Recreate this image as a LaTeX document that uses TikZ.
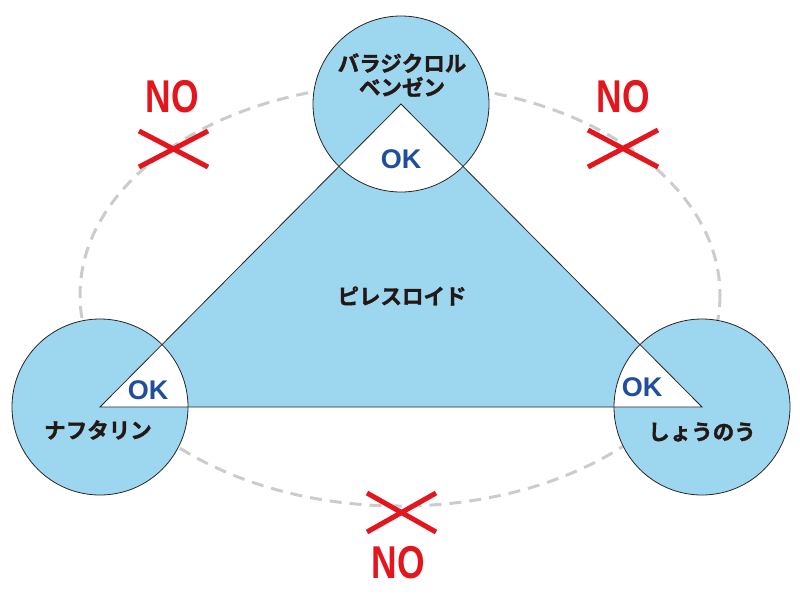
\documentclass[tikz,border=0pt]{standalone}
\usepackage{fontspec}
\setmainfont{Liberation Sans}
\newfontfamily\jp{Noto Sans CJK JP}[BoldFont={* Bold}, BoldFeatures={FakeBold=1.5}]
\definecolor{lblue}{HTML}{9DD6EF}
\definecolor{okblue}{HTML}{1F4E9E}
\definecolor{nored}{HTML}{E3161E}
\definecolor{jtext}{HTML}{231815}
\tikzset{
  disc/.style={fill=lblue, draw=black!85, line width=0.8pt},
  tri/.style={draw=black!85, line width=0.8pt, line join=miter},
  ok/.style={font=\fontsize{27}{27}\selectfont\bfseries, text=okblue, inner sep=0pt},
  jlabel/.style={font=\jp\bfseries\fontsize{21.5}{24}\selectfont, text=jtext, inner sep=0pt, align=center},
  nolabel/.style={font=\fontsize{46}{46}\selectfont\bfseries, text=nored, inner sep=0pt},
  cross/.style={draw=nored, line width=5pt},
  orbit/.style={draw=gray!40, line width=3pt, dash pattern=on 12pt off 8pt}
}
\begin{document}
\begin{tikzpicture}[x=1pt, y=-1pt]
\useasboundingbox (0,0) rectangle (800,600);
% centres
\coordinate (T) at (401,104);
\coordinate (L) at (100,407);
\coordinate (R) at (702,407);
\coordinate (E) at (400,295);
% dashed orbit
\draw[orbit] (E) ellipse [x radius=320, y radius=211];
% discs
\fill[lblue] (T) circle [radius=88];
\fill[lblue] (L) circle [radius=88];
\fill[lblue] (R) circle [radius=88];
% triangle
\fill[lblue] (T) -- (L) -- (R) -- cycle;
% overlap sectors in white
\begin{scope}
  \clip (T) -- (L) -- (R) -- cycle;
  \fill[white] (T) circle [radius=88];
  \fill[white] (L) circle [radius=88];
  \fill[white] (R) circle [radius=88];
\end{scope}
% outlines
\draw[disc, fill=none] (T) circle [radius=88];
\draw[disc, fill=none] (L) circle [radius=88];
\draw[disc, fill=none] (R) circle [radius=88];
\draw[tri] (T) -- (L) -- (R) -- cycle;
% labels
\node[jlabel] (tlab) at (402,75) {バラジクロル\\ベンゼン};
\node[jlabel] (llab) at (98,430) {ナフタリン};
\node[jlabel] (rlab) at (702,432) {しょうのう};
\node[jlabel] (clab) at (402,296) {ピレスロイド};
\node[ok] (okT) at (401,159) {OK};
\node[ok] (okL) at (148,390) {OK};
\node[ok] (okR) at (642,387) {OK};
% NO marks
\node[nolabel] (no1) at (172,97) {\scalebox{0.77}[1]{NO}};
\node[nolabel] (no2) at (623,97) {\scalebox{0.77}[1]{NO}};
\node[nolabel] (no3) at (398,563) {\scalebox{0.77}[1]{NO}};
\coordinate (x1a) at (139,131); \coordinate (x1b) at (208,167);
\coordinate (x1c) at (139,167); \coordinate (x1d) at (208,131);
\draw[cross] (x1a) -- (x1b);
\draw[cross] (x1c) -- (x1d);
\coordinate (x2a) at (588,130); \coordinate (x2b) at (658,167);
\coordinate (x2c) at (588,167); \coordinate (x2d) at (658,130);
\draw[cross] (x2a) -- (x2b);
\draw[cross] (x2c) -- (x2d);
\coordinate (x3a) at (367,493); \coordinate (x3b) at (436,532);
\coordinate (x3c) at (367,532); \coordinate (x3d) at (436,493);
\draw[cross] (x3a) -- (x3b);
\draw[cross] (x3c) -- (x3d);
\end{tikzpicture}
\end{document}
